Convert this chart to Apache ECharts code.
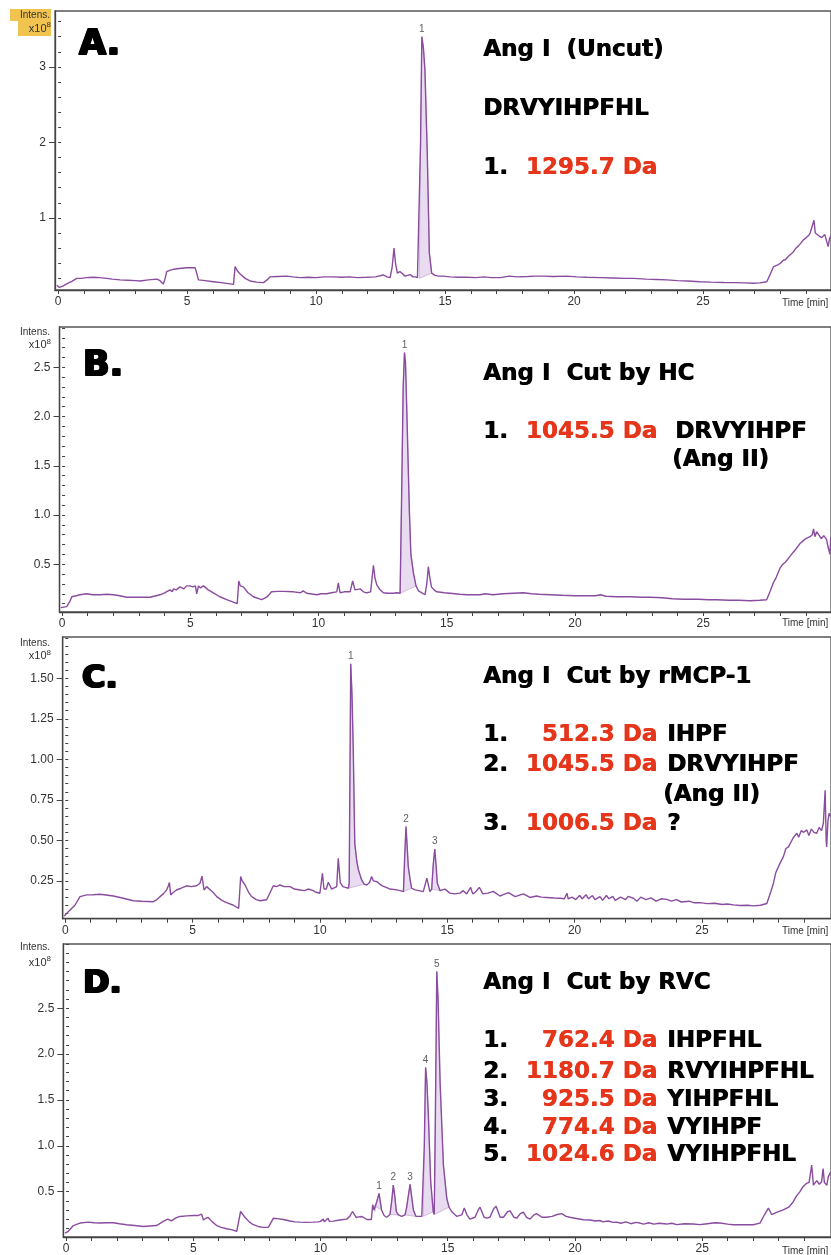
<!DOCTYPE html>
<html><head><meta charset="utf-8">
<script src="https://cdn.jsdelivr.net/npm/echarts@6/dist/echarts.min.js"></script>
<style>html,body{margin:0;padding:0;background:#fff}#c{width:831px;height:1255px}</style>
</head><body><div id="c"></div>
<script>
// ---------- DATA (time [min], intensity x10^8) ----------
const traceA = [[-0.05,0.11],[0.05,0.08],[0.2,0.10],[0.35,0.13],[0.53,0.16],[0.72,0.20],[0.9,0.20],[1.1,0.21],[1.37,0.215],[1.6,0.21],[1.89,0.20],[2.1,0.19],[2.4,0.18],[2.7,0.175],[3.0,0.17],[3.18,0.166],[3.5,0.18],[3.83,0.19],[3.95,0.17],[4.08,0.126],[4.15,0.2],[4.21,0.29],[4.35,0.31],[4.47,0.32],[4.7,0.33],[4.99,0.34],[5.15,0.34],[5.31,0.34],[5.38,0.26],[5.44,0.18],[5.7,0.17],[6.02,0.156],[6.4,0.14],[6.8,0.12],[6.86,0.355],[6.95,0.30],[7.05,0.26],[7.25,0.2],[7.44,0.166],[7.7,0.15],[7.96,0.143],[8.1,0.18],[8.22,0.22],[8.5,0.225],[8.86,0.23],[9.1,0.22],[9.38,0.21],[9.7,0.215],[10.0,0.21],[10.3,0.22],[10.67,0.22],[11.0,0.215],[11.3,0.22],[11.6,0.21],[11.96,0.215],[12.3,0.22],[12.6,0.245],[12.75,0.22],[12.87,0.21],[12.95,0.35],[13.02,0.6],[13.08,0.40],[13.15,0.27],[13.25,0.29],[13.32,0.31],[13.45,0.23],[13.55,0.24],[13.65,0.25],[13.75,0.22],[13.85,0.22],[13.93,0.21],[14.0,0.2],[14.05,2.0],[14.1,3.40],[14.16,3.25],[14.22,2.96],[14.31,1.86],[14.39,0.54],[14.48,0.27],[14.61,0.24],[14.75,0.23],[14.93,0.23],[15.2,0.22],[15.5,0.215],[15.84,0.215],[16.2,0.21],[16.5,0.22],[16.8,0.21],[17.13,0.21],[17.5,0.23],[17.8,0.22],[18.2,0.225],[18.5,0.23],[18.81,0.23],[19.2,0.225],[19.72,0.23],[20.1,0.22],[20.5,0.215],[21.0,0.21],[21.5,0.205],[22.0,0.2],[22.3,0.2],[22.8,0.19],[23.2,0.185],[23.6,0.18],[24.0,0.17],[24.4,0.165],[24.88,0.156],[25.3,0.15],[25.8,0.145],[26.2,0.143],[26.6,0.14],[26.95,0.135],[27.2,0.14],[27.47,0.156],[27.6,0.25],[27.73,0.355],[27.8,0.33],[27.9,0.38],[28.0,0.40],[28.11,0.44],[28.2,0.45],[28.3,0.49],[28.4,0.52],[28.5,0.55],[28.6,0.6],[28.7,0.63],[28.8,0.67],[28.89,0.71],[29.0,0.74],[29.1,0.77],[29.15,0.8],[29.22,0.78],[29.3,0.97],[29.35,0.8],[29.4,0.78],[29.5,0.76],[29.6,0.74],[29.66,0.73],[29.72,0.78],[29.79,0.8],[29.85,0.62],[29.9,0.72],[29.96,0.77]];
const fillA = [[14.0,14.48]];
const peakTimesA = [14.1];
const peakNamesA = ['1'];
const yTicksA = [1,2,3];

const traceB = [[-0.05,0.06],[0.18,0.07],[0.3,0.12],[0.38,0.17],[0.55,0.18],[0.7,0.19],[0.96,0.20],[1.2,0.19],[1.48,0.19],[1.75,0.195],[2.0,0.19],[2.25,0.18],[2.52,0.165],[3.0,0.165],[3.43,0.165],[3.82,0.19],[4.0,0.21],[4.21,0.24],[4.3,0.22],[4.34,0.25],[4.45,0.24],[4.6,0.27],[4.75,0.25],[4.85,0.28],[4.99,0.28],[5.1,0.27],[5.2,0.28],[5.25,0.20],[5.32,0.28],[5.4,0.26],[5.51,0.28],[5.7,0.24],[5.9,0.21],[6.15,0.17],[6.42,0.14],[6.83,0.10],[6.89,0.33],[6.95,0.28],[7.07,0.27],[7.25,0.21],[7.46,0.17],[7.78,0.14],[7.98,0.165],[8.17,0.22],[8.4,0.225],[8.63,0.225],[9.02,0.22],[9.3,0.21],[9.4,0.23],[9.54,0.205],[9.93,0.19],[10.1,0.2],[10.32,0.2],[10.5,0.21],[10.71,0.22],[10.77,0.31],[10.84,0.21],[11.0,0.22],[11.23,0.22],[11.33,0.33],[11.42,0.24],[11.49,0.25],[11.62,0.25],[11.75,0.22],[11.88,0.21],[12.03,0.22],[12.14,0.49],[12.2,0.36],[12.27,0.29],[12.4,0.24],[12.53,0.21],[12.7,0.205],[12.91,0.205],[13.05,0.21],[13.18,0.205],[13.24,1.2],[13.3,2.3],[13.35,2.65],[13.39,2.55],[13.44,2.07],[13.54,1.05],[13.6,0.6],[13.7,0.41],[13.8,0.28],[13.9,0.23],[13.96,0.21],[14.15,0.19],[14.22,0.3],[14.28,0.475],[14.33,0.38],[14.4,0.27],[14.5,0.24],[14.61,0.22],[14.9,0.21],[15.13,0.205],[15.5,0.195],[15.78,0.19],[16.3,0.19],[16.5,0.2],[16.8,0.19],[17.2,0.2],[17.6,0.205],[17.98,0.21],[18.3,0.2],[18.6,0.195],[19.03,0.19],[19.5,0.185],[20.0,0.18],[20.32,0.18],[20.8,0.18],[21.0,0.19],[21.2,0.175],[21.63,0.17],[22.2,0.17],[22.6,0.165],[22.92,0.165],[23.4,0.16],[23.8,0.15],[24.22,0.145],[24.8,0.145],[25.2,0.14],[25.52,0.14],[26.0,0.135],[26.4,0.135],[26.82,0.13],[27.2,0.135],[27.47,0.14],[27.6,0.22],[27.73,0.31],[27.85,0.37],[27.99,0.46],[28.1,0.5],[28.2,0.52],[28.38,0.58],[28.5,0.62],[28.6,0.65],[28.77,0.71],[28.9,0.74],[29.0,0.76],[29.16,0.78],[29.25,0.8],[29.3,0.86],[29.35,0.78],[29.42,0.83],[29.5,0.8],[29.6,0.76],[29.7,0.79],[29.81,0.75],[29.86,0.68],[29.94,0.6],[29.97,0.78]];
const fillB = [[13.18,13.8]];
const peakTimesB = [13.35];
const peakNamesB = ['1'];
const yTicksB = [0.5,1.0,1.5,2.0,2.5];

const traceC = [[-0.04,0.034],[0.12,0.06],[0.25,0.08],[0.38,0.10],[0.58,0.153],[0.84,0.164],[1.1,0.165],[1.36,0.168],[1.6,0.163],[1.89,0.157],[2.28,0.143],[2.67,0.128],[3.0,0.125],[3.46,0.122],[3.6,0.135],[3.72,0.153],[3.85,0.17],[3.98,0.194],[4.05,0.22],[4.09,0.24],[4.14,0.164],[4.25,0.18],[4.37,0.194],[4.55,0.205],[4.77,0.22],[4.95,0.215],[5.16,0.22],[5.29,0.236],[5.37,0.28],[5.45,0.194],[5.55,0.215],[5.62,0.22],[5.8,0.18],[5.95,0.153],[6.15,0.13],[6.34,0.116],[6.6,0.1],[6.81,0.081],[6.89,0.277],[6.95,0.25],[7.06,0.225],[7.2,0.18],[7.32,0.153],[7.5,0.135],[7.65,0.128],[7.91,0.134],[8.05,0.18],[8.17,0.22],[8.3,0.215],[8.43,0.225],[8.6,0.215],[8.83,0.215],[9.0,0.2],[9.22,0.194],[9.4,0.19],[9.54,0.2],[9.74,0.19],[9.85,0.18],[10.0,0.174],[10.1,0.297],[10.16,0.2],[10.25,0.2],[10.33,0.242],[10.46,0.2],[10.66,0.215],[10.72,0.39],[10.8,0.24],[10.9,0.215],[11.0,0.21],[11.12,0.205],[11.15,0.236],[11.18,0.9],[11.21,1.59],[11.26,1.4],[11.31,1.06],[11.37,0.48],[11.45,0.37],[11.51,0.32],[11.64,0.256],[11.74,0.23],[11.84,0.225],[11.95,0.24],[12.03,0.277],[12.1,0.25],[12.25,0.245],[12.35,0.23],[12.45,0.22],[12.6,0.21],[12.75,0.2],[13.02,0.195],[13.15,0.19],[13.28,0.184],[13.33,0.4],[13.38,0.585],[13.42,0.48],[13.47,0.34],[13.55,0.25],[13.6,0.205],[13.73,0.195],[13.9,0.19],[14.06,0.184],[14.2,0.267],[14.32,0.184],[14.39,0.2],[14.45,0.35],[14.51,0.446],[14.56,0.35],[14.61,0.236],[14.72,0.19],[14.91,0.2],[15.1,0.175],[15.3,0.17],[15.5,0.175],[15.63,0.19],[15.76,0.17],[15.92,0.21],[16.0,0.17],[16.1,0.18],[16.26,0.21],[16.4,0.17],[16.6,0.175],[16.81,0.186],[17.07,0.157],[17.2,0.165],[17.4,0.178],[17.67,0.153],[17.99,0.17],[18.25,0.148],[18.51,0.157],[18.7,0.15],[18.9,0.148],[19.2,0.145],[19.43,0.143],[19.6,0.14],[19.7,0.174],[19.75,0.14],[19.9,0.15],[20.05,0.135],[20.2,0.16],[20.3,0.14],[20.45,0.165],[20.55,0.14],[20.7,0.16],[20.8,0.135],[21.0,0.153],[21.1,0.13],[21.25,0.16],[21.35,0.14],[21.5,0.155],[21.6,0.13],[21.8,0.15],[22.0,0.135],[22.1,0.155],[22.31,0.143],[22.45,0.125],[22.6,0.15],[22.8,0.135],[23.0,0.145],[23.2,0.125],[23.4,0.14],[23.62,0.136],[23.8,0.125],[24.0,0.135],[24.2,0.12],[24.5,0.125],[24.7,0.115],[24.93,0.116],[25.2,0.11],[25.5,0.112],[25.8,0.105],[26.0,0.108],[26.24,0.102],[26.5,0.098],[26.8,0.1],[27.02,0.096],[27.3,0.1],[27.55,0.111],[27.7,0.18],[27.81,0.236],[27.9,0.3],[28.07,0.36],[28.2,0.4],[28.3,0.45],[28.4,0.46],[28.5,0.49],[28.6,0.52],[28.73,0.544],[28.8,0.52],[28.9,0.56],[29.0,0.55],[29.12,0.565],[29.2,0.53],[29.3,0.57],[29.4,0.55],[29.51,0.544],[29.6,0.58],[29.7,0.56],[29.77,0.606],[29.84,0.81],[29.88,0.5],[29.9,0.46],[29.95,0.62],[30.0,0.668],[30.05,0.65]];
const fillC = [[11.12,11.74],[13.28,13.6],[14.39,14.72]];
const peakTimesC = [11.21,13.38,14.51];
const peakNamesC = ['1','2','3'];
const yTicksC = [0.25,0.5,0.75,1.0,1.25,1.5];

const traceD = [[-0.04,0.048],[0.09,0.067],[0.29,0.13],[0.55,0.157],[0.88,0.167],[1.1,0.16],[1.34,0.157],[1.6,0.16],[1.86,0.16],[2.1,0.15],[2.38,0.139],[2.7,0.13],[3.04,0.12],[3.3,0.125],[3.56,0.13],[3.82,0.175],[4.0,0.2],[4.06,0.218],[4.14,0.18],[4.3,0.21],[4.48,0.229],[4.75,0.235],[5.0,0.24],[5.2,0.24],[5.33,0.254],[5.4,0.19],[5.5,0.21],[5.59,0.218],[5.75,0.17],[5.92,0.13],[6.1,0.11],[6.31,0.095],[6.5,0.085],[6.71,0.067],[6.86,0.283],[6.95,0.25],[7.04,0.218],[7.2,0.17],[7.36,0.139],[7.55,0.12],[7.75,0.11],[7.95,0.11],[8.15,0.21],[8.3,0.205],[8.54,0.196],[8.8,0.18],[9.0,0.17],[9.19,0.167],[9.45,0.165],[9.71,0.167],[9.9,0.17],[10.0,0.175],[10.11,0.2],[10.15,0.17],[10.3,0.21],[10.35,0.175],[10.5,0.178],[10.75,0.19],[11.03,0.2],[11.15,0.23],[11.26,0.283],[11.4,0.218],[11.5,0.225],[11.62,0.229],[11.82,0.196],[12.0,0.196],[12.05,0.355],[12.1,0.3],[12.14,0.283],[12.2,0.38],[12.3,0.48],[12.4,0.3],[12.5,0.24],[12.6,0.22],[12.73,0.25],[12.8,0.4],[12.86,0.57],[12.92,0.45],[12.98,0.283],[13.06,0.246],[13.19,0.23],[13.32,0.246],[13.38,0.32],[13.45,0.45],[13.52,0.58],[13.58,0.45],[13.65,0.3],[13.75,0.23],[13.98,0.23],[14.04,0.23],[14.08,1.0],[14.13,1.854],[14.18,1.7],[14.24,1.33],[14.33,0.61],[14.43,0.28],[14.47,0.25],[14.51,1.2],[14.57,2.90],[14.62,2.6],[14.7,1.69],[14.83,0.79],[14.96,0.43],[15.05,0.33],[15.16,0.28],[15.35,0.23],[15.55,0.246],[15.65,0.32],[15.75,0.25],[15.87,0.2],[16.07,0.22],[16.2,0.3],[16.27,0.33],[16.43,0.22],[16.53,0.21],[16.66,0.22],[16.8,0.31],[16.9,0.34],[17.06,0.22],[17.19,0.22],[17.35,0.28],[17.45,0.29],[17.6,0.22],[17.71,0.21],[17.85,0.26],[17.97,0.275],[18.1,0.22],[18.23,0.2],[18.4,0.25],[18.49,0.26],[18.7,0.22],[18.88,0.22],[19.1,0.23],[19.3,0.25],[19.48,0.26],[19.65,0.23],[19.8,0.22],[20.0,0.21],[20.33,0.193],[20.6,0.19],[20.8,0.18],[20.98,0.185],[21.1,0.17],[21.3,0.18],[21.5,0.165],[21.64,0.167],[21.8,0.155],[22.0,0.17],[22.2,0.15],[22.4,0.165],[22.55,0.157],[22.7,0.145],[22.9,0.16],[23.1,0.145],[23.3,0.155],[23.6,0.146],[23.8,0.155],[24.0,0.14],[24.3,0.15],[24.65,0.146],[24.9,0.14],[25.2,0.15],[25.5,0.16],[25.7,0.157],[26.0,0.145],[26.22,0.139],[26.6,0.14],[27.0,0.139],[27.27,0.157],[27.45,0.25],[27.6,0.32],[27.73,0.25],[27.9,0.27],[28.18,0.3],[28.4,0.33],[28.58,0.39],[28.7,0.45],[28.84,0.5],[28.95,0.55],[29.1,0.59],[29.2,0.6],[29.3,0.79],[29.37,0.57],[29.5,0.62],[29.6,0.58],[29.69,0.608],[29.75,0.75],[29.8,0.6],[29.9,0.57],[29.95,0.66],[30.06,0.72]];
const fillD = [[12.05,12.45],[12.73,13.06],[13.32,13.75],[14.04,14.43],[14.47,15.05]];
const peakTimesD = [12.3,12.86,13.52,14.13,14.57];
const peakNamesD = ['1','2','3','4','5'];
const yTicksD = [0.5,1.0,1.5,2.0,2.5];

const xTickLabels = [0,5,10,15,20,25];
const panelLetters = ['A.','B.','C.','D.'];
const titles = ['Ang I  (Uncut)','Ang I  Cut by HC','Ang I  Cut by rMCP-1','Ang I  Cut by RVC'];
const rowNumsA = ['1.'], massesA = ['1295.7 Da'], seqsA = [''];
const rowNumsB = ['1.'], massesB = ['1045.5 Da'], seqsB = ['DRVYIHPF'];
const rowNumsC = ['1.','2.','3.'], massesC = ['512.3 Da','1045.5 Da','1006.5 Da'], seqsC = ['IHPF','DRVYIHPF','?'];
const rowNumsD = ['1.','2.','3.','4.','5.'], massesD = ['762.4 Da','1180.7 Da','925.5 Da','774.4 Da','1024.6 Da'], seqsD = ['IHPFHL','RVYIHPFHL','YIHPFHL','VYIHPF','VYIHPFHL'];

// ---------- LAYOUT ----------
const LINE = '#8a4c9f', FILL = '#e9dbf0', AX = '#444', RED = '#e5351b';
const panels = [
  {trace:traceA, fills:fillA, pk:peakTimesA, pn:peakNamesA, yt:yTicksA, dec:0, minor:0.2,
   left:55, top:11, bottom:290, xmin:-0.12, xmax:29.96, ymin:0.046, ymax:3.74},
  {trace:traceB, fills:fillB, pk:peakTimesB, pn:peakNamesB, yt:yTicksB, dec:1, minor:0.1,
   left:59.5, top:327, bottom:612, xmin:-0.1, xmax:29.98, ymin:0.015, ymax:2.91},
  {trace:traceC, fills:fillC, pk:peakTimesC, pn:peakNamesC, yt:yTicksC, dec:2, minor:0.05,
   left:62.7, top:637, bottom:918.7, xmin:-0.1, xmax:30.07, ymin:0.017, ymax:1.755},
  {trace:traceD, fills:fillD, pk:peakTimesD, pn:peakNamesD, yt:yTicksD, dec:1, minor:0.1,
   left:63.3, top:944, bottom:1239, xmin:-0.106, xmax:30.06, ymin:0.005, ymax:3.2}
];

const grid = [], xAxis = [], yAxis = [], series = [], graphic = [];
const FONT = '"Liberation Sans", Arial, sans-serif';
panels.forEach((p, i) => {
  grid.push({left:p.left, top:p.top, width:831 - p.left + 2, height:p.bottom - p.top,
    show:true, borderColor:'#555', borderWidth:1.3, containLabel:false});
  const ints = []; for (let k = 0; k <= 29; k++) ints.push(k);
  xAxis.push({gridIndex:i, type:'value', min:p.xmin, max:p.xmax,
    axisLine:{onZero:false, lineStyle:{color:AX, width:1.3}},
    axisTick:{customValues:ints, length:4, lineStyle:{color:AX, width:1}},
    axisLabel:{customValues:xTickLabels, fontSize:12, color:'#333', margin:6, fontFamily:FONT},
    splitLine:{show:false}});
  const minors = [];
  for (let v = Math.ceil(p.ymin / p.minor) * p.minor; v <= p.ymax + 1e-9; v += p.minor) minors.push(+v.toFixed(4));
  yAxis.push({gridIndex:i, type:'value', min:p.ymin, max:p.ymax,
    axisLine:{show:true, onZero:false, lineStyle:{color:AX, width:1.3}},
    axisTick:{show:true, customValues:p.yt, length:6, lineStyle:{color:AX, width:1}},
    axisLabel:{customValues:p.yt, formatter:v => (+v).toFixed(p.dec), fontSize:12, color:'#333', margin:9, fontFamily:FONT},
    splitLine:{show:false}});
  yAxis.push({gridIndex:i, type:'value', min:p.ymin, max:p.ymax,
    axisLine:{show:false},
    axisTick:{show:true, customValues:minors, length:3, lineStyle:{color:AX, width:1}},
    axisLabel:{show:false}, splitLine:{show:false}});
  const trace = p.trace;
  series.push({type:'custom', xAxisIndex:i, yAxisIndex:2*i, clip:true, z:1,
    data:p.fills.map(f => [f[0], f[1], p.ymin]), encode:{x:[0,1], y:2},
    renderItem:(params, api) => {
      const f = p.fills[params.dataIndex];
      const pts = trace.filter(q => q[0] >= f[0] && q[0] <= f[1]).map(q => api.coord(q));
      return {type:'polygon', shape:{points:pts},
        style:{fill:FILL, stroke:'#c7aed3', lineWidth:0.8}};
    }, silent:true});
  series.push({type:'line', xAxisIndex:i, yAxisIndex:2*i, data:trace, showSymbol:false, symbol:'none',
    clip:true, z:3, lineStyle:{color:LINE, width:1.4}, animation:false});
  series.push({type:'scatter', xAxisIndex:i, yAxisIndex:2*i, symbolSize:1, itemStyle:{color:'rgba(0,0,0,0)'}, z:4,
    data:p.pk.map((t, k) => { const q = trace.find(r => r[0] === t); return {value:q, name:p.pn[k]}; }),
    label:{show:true, position:'top', distance:2, formatter:d => d.name, fontSize:10, color:'#333', fontFamily:FONT}});
});

// Axis captions
const intensY = [[15.5, 28.5], [332, 345], [643, 656], [947.5, 962.5]];
graphic.push({type:'rect', shape:{x:10, y:9, width:41, height:12}, style:{fill:'#f1c44f'}, z:0});
graphic.push({type:'rect', shape:{x:18, y:21, width:33, height:15}, style:{fill:'#f1c44f'}, z:0});
intensY.forEach((yy, i) => {
  graphic.push({type:'text', x:50, y:yy[0], z:10, style:{text:'Intens.', font:'10px ' + FONT, fill:'#333', align:'right', verticalAlign:'middle'}});
  graphic.push({type:'text', x:51, y:yy[1], z:10, style:{text:'{a|x10}{b|8}', align:'right', verticalAlign:'middle',
    rich:{a:{fontSize:11, fontFamily:FONT, fill:'#333'}, b:{fontSize:8, fontFamily:FONT, fill:'#333', padding:[0,0,7,0]}}}});
});
[303, 623, 931, 1251].forEach(yy => {
  graphic.push({type:'text', x:782, y:yy, z:10, style:{text:'Time [min]', font:'10px ' + FONT, fill:'#333', verticalAlign:'middle'}});
});

// Panel letters (heavy: drawn as several overlapping copies)
const BIG = '"DejaVu Sans", sans-serif';
const letterPos = [[78,45,35],[82,366,35],[81,679,32],[82,983.5,32]];
const heavy = [[0,0],[1,0],[2,0],[0,1],[1,1],[2,1]];
letterPos.forEach((lp, i) => {
  heavy.forEach(o => {
    graphic.push({type:'text', x:lp[0] + o[0], y:lp[1] + o[1], z:10, style:{text:panelLetters[i],
      font:'bold ' + lp[2] + 'px ' + BIG, fill:'#000', verticalAlign:'middle'}});
  });
});

// Annotation text (slightly emboldened with a second copy)
const ANN = 'bold 23px ' + BIG;
function txt(x, y, s, color, align) {
  [0, 0.7].forEach(dx => {
    graphic.push({type:'text', x:x + dx, y:y, z:10, style:{text:s, font:ANN, fill:color, align:align || 'left', verticalAlign:'middle'}});
  });
}
const titleY = [50, 374, 677, 983];
titles.forEach((t, i) => txt(483, titleY[i], t, '#000'));
txt(483, 109, 'DRVYIHPFHL', '#000');
const rowsets = [
  {nums:rowNumsA, mass:massesA, seq:seqsA, ys:[168], seqX:667},
  {nums:rowNumsB, mass:massesB, seq:seqsB, ys:[432], seqX:675},
  {nums:rowNumsC, mass:massesC, seq:seqsC, ys:[735.5, 765, 824], seqX:667},
  {nums:rowNumsD, mass:massesD, seq:seqsD, ys:[1041, 1072, 1100, 1128, 1155], seqX:667}
];
rowsets.forEach(r => {
  r.nums.forEach((n, k) => {
    txt(483, r.ys[k], n, '#000');
    txt(657, r.ys[k], r.mass[k], RED, 'right');
    if (r.seq[k]) txt(r.seqX, r.ys[k], r.seq[k], '#000');
  });
});
txt(672, 460, '(Ang II)', '#000');
txt(663, 795, '(Ang II)', '#000');

const chart = echarts.init(document.getElementById('c'), null, {renderer:'canvas'});
chart.setOption({animation:false, backgroundColor:'#fff', grid, xAxis, yAxis, series, graphic});
</script>
</body></html>
